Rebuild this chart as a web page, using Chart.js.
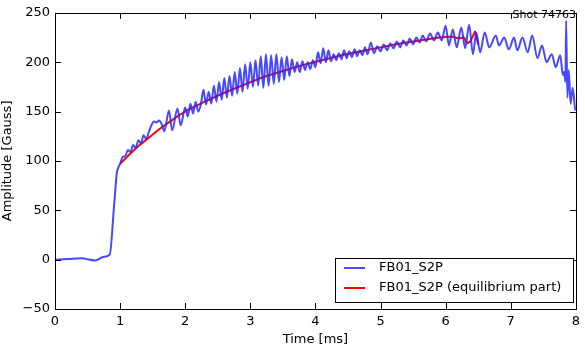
<!DOCTYPE html>
<html>
<head>
<meta charset="utf-8">
<script src="https://cdn.jsdelivr.net/npm/chart.js@4"></script>
<style>
  html, body { margin: 0; padding: 0; background: #fff; }
</style>
</head>
<body>
<canvas id="myChart" width="585" height="347"></canvas>
<script>
// measured signal
const blueTime = [0, 0.2, 0.41, 0.5, 0.62, 0.75, 0.84, 0.91, 0.95, 0.97,
  1.00, 1.04, 1.08, 1.12, 1.16, 1.20, 1.24, 1.28, 1.32, 1.36, 1.40, 1.44, 1.48,
  1.52, 1.56, 1.60, 1.64, 1.68, 1.75, 1.80, 1.88, 1.93, 2.00, 2.04, 2.08, 2.12,
  2.16, 2.20, 2.24, 2.28, 2.32, 2.36, 2.40, 2.44, 2.48, 2.52, 2.56, 2.60, 2.64,
  2.68, 2.72, 2.76, 2.80, 2.84, 2.88, 2.92, 2.96, 3.00, 3.04, 3.08, 3.12, 3.16,
  3.20, 3.24, 3.28, 3.32, 3.36, 3.40, 3.44, 3.48, 3.52, 3.56, 3.60, 3.64, 3.68,
  3.72, 3.76, 3.80, 3.84, 3.88, 3.92, 3.96, 4.00, 4.04, 4.08, 4.12, 4.16, 4.20,
  4.24, 4.28, 4.32, 4.36, 4.40, 4.44, 4.48, 4.52, 4.56, 4.60, 4.64, 4.68, 4.72,
  4.76, 4.80, 4.85, 4.90, 4.95, 5.00, 5.05, 5.10, 5.15, 5.20, 5.25, 5.30, 5.35,
  5.40, 5.45, 5.50, 5.55, 5.60, 5.65, 5.70, 5.76, 5.82, 5.88, 5.94, 6.00, 6.05,
  6.11, 6.17, 6.24, 6.30, 6.36, 6.42, 6.47, 6.53, 6.60, 6.67, 6.77, 6.82, 6.90,
  6.97, 7.05, 7.10, 7.18, 7.26, 7.33, 7.41, 7.48, 7.55, 7.63, 7.69, 7.76, 7.80,
  7.82, 7.84, 7.85, 7.87, 7.89, 7.92, 7.95, 7.99]
const blueAmp = [0, 0.6, 1.3, 0.5, -1, 3, 5, 57, 88, 93,
  97, 104, 105, 111, 109, 116, 113, 121, 118, 126, 122, 129, 136,
  140, 139, 141, 137, 130, 151, 131, 153, 136, 154, 145, 158, 148,
  160, 150, 157, 172, 157, 170, 158, 176, 160, 180, 162, 184, 164,
  186, 166, 190, 168, 194, 170, 198, 173, 200, 175, 202, 176, 206,
  174, 208, 176, 207, 178, 208, 180, 205, 182, 206, 186, 203, 190,
  200, 190, 201, 192, 200, 193, 202, 195, 210, 199, 214, 200, 212,
  201, 208, 202, 209, 203, 212, 204, 211, 205, 213, 206, 212, 207,
  215, 208, 220, 209, 216, 211, 218, 212, 219, 214, 221, 215, 222,
  217, 224, 218, 225, 220, 227, 221, 229, 222, 230, 222, 237, 217,
  233, 215, 235, 214, 238, 208, 230, 210, 230, 215, 227, 217, 225,
  213, 225, 212, 225, 210, 227, 204, 217, 200, 208, 195, 207, 187,
  190, 180, 242, 164, 192, 158, 174, 151]

// equilibrium part
const redTime = [1.0, 1.15, 1.3, 1.45, 1.6, 1.75, 1.9, 2.05, 2.3, 2.6, 2.9, 3.2,
  3.5, 3.8, 4.1, 4.4, 4.7, 5.0, 5.3, 5.6, 5.9, 6.1, 6.2, 6.28, 6.33, 6.38, 6.45, 6.5]
const redAmp = [97, 107, 116, 124, 132, 139, 146, 152, 160, 169, 177, 185,
  191, 197, 202, 207, 211, 215, 219, 222, 225, 226, 224, 225, 219, 221, 231, 218]

const seriesNames = ["FB01_S2P", "FB01_S2P (equilibrium part)"]
const shotLabel = "Shot 74763"
const xTicks = [0, 1, 2, 3, 4, 5, 6, 7, 8]
const yTicks = [-50, 0, 50, 100, 150, 200, 250]

const FONT = "'DejaVu Sans', sans-serif"

function pts(ts, vs) {
  return ts.map((t, i) => ({ x: t, y: vs[i] }))
}

// matplotlib-ish frame, inward ticks, legend box and shot label
const decorations = {
  id: "decorations",
  afterDraw(chart) {
    const { ctx, chartArea: a, scales } = chart
    const x = scales.x, y = scales.y
    ctx.save()
    ctx.strokeStyle = "#000"
    ctx.lineWidth = 1
    const seg = (x1, y1, x2, y2) => {
      ctx.beginPath(); ctx.moveTo(x1, y1); ctx.lineTo(x2, y2); ctx.stroke()
    }
    xTicks.forEach(v => {
      const px = Math.round(x.getPixelForValue(v)) + 0.5
      seg(px, a.bottom, px, a.bottom - 6)
      seg(px, a.top, px, a.top + 6)
    })
    yTicks.forEach(v => {
      const py = Math.round(y.getPixelForValue(v)) + 0.5
      seg(a.left, py, a.left + 6, py)
      seg(a.right, py, a.right - 6, py)
    })
    ctx.strokeRect(Math.round(a.left) + 0.5, Math.round(a.top) + 0.5,
      Math.round(a.right - a.left), Math.round(a.bottom - a.top))

    // legend
    const lx = 335.5, ly = 258.5, lw = 238, lh = 44
    ctx.fillStyle = "#fff"
    ctx.fillRect(lx, ly, lw, lh)
    ctx.strokeRect(lx, ly, lw, lh)
    ctx.font = "13px " + FONT
    ctx.textBaseline = "middle"
    chart.data.datasets.forEach((ds, i) => {
      const cy = 268 + i * 20
      ctx.strokeStyle = ds.borderColor
      ctx.lineWidth = 2
      seg(344, cy, 365, cy)
      ctx.fillStyle = "#000"
      ctx.fillText(ds.label, 379, cy)
    })

    ctx.font = "11px " + FONT
    ctx.fillStyle = "#000"
    ctx.textAlign = "right"
    ctx.fillText(shotLabel, 576, 15)
    ctx.restore()
  }
}

const ctx = document.getElementById("myChart")
new Chart(ctx, {
  type: "line",
  data: {
    datasets: [{
      label: seriesNames[0],
      data: pts(blueTime, blueAmp),
      borderColor: "rgba(40,40,255,0.85)",
      borderWidth: 2,
      borderJoinStyle: "round",
      pointRadius: 0,
      cubicInterpolationMode: "monotone"
    }, {
      label: seriesNames[1],
      data: pts(redTime, redAmp),
      borderColor: "#ff0000",
      borderWidth: 2,
      borderJoinStyle: "round",
      pointRadius: 0,
      tension: 0
    }]
  },
  options: {
    responsive: false,
    animation: false,
    layout: { padding: { top: 5, right: 5, left: 0, bottom: 0 } },
    plugins: { legend: { display: false }, tooltip: { enabled: false } },
    scales: {
      x: {
        type: "linear",
        min: 0, max: 8,
        afterBuildTicks: (s) => { s.ticks = xTicks.map(v => ({ value: v })) },
        afterFit: (s) => { s.height = 38 },
        grid: { display: false, drawTicks: false },
        border: { display: false },
        ticks: { color: "#000", padding: 5, font: { family: FONT, size: 13 } },
        title: { display: true, text: "Time [ms]", color: "#000", padding: 0,
          font: { family: FONT, size: 13 } }
      },
      y: {
        type: "linear",
        min: -50, max: 250,
        afterBuildTicks: (s) => { s.ticks = yTicks.map(v => ({ value: v })) },
        afterFit: (s) => { s.width = 55 },
        grid: { display: false, drawTicks: false },
        border: { display: false },
        ticks: {
          color: "#000", padding: 5, font: { family: FONT, size: 13 },
          callback: (v) => String(v).replace("-", "\u2212")
        },
        title: { display: true, text: "Amplitude [Gauss]", color: "#000", padding: 0,
          font: { family: FONT, size: 13 } }
      }
    }
  },
  plugins: [decorations]
})
</script>
</body>
</html>
